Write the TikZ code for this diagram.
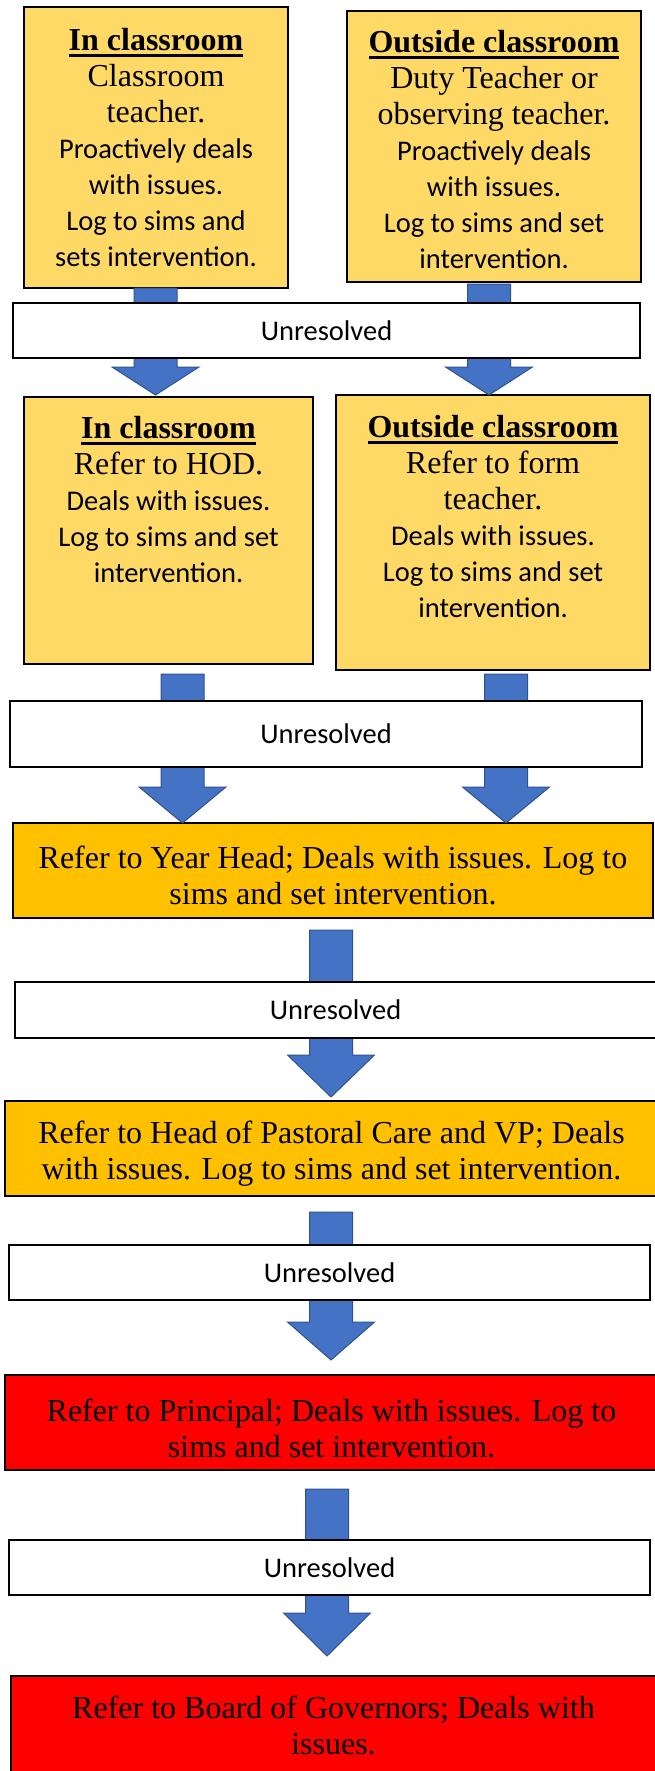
\documentclass[tikz,border=0pt]{standalone}
\usepackage{fontspec}
\setmainfont{Liberation Serif}
\newfontfamily\calib{Carlito}
\usetikzlibrary{calc}

\definecolor{lightgold}{HTML}{FFD966}
\definecolor{amber}{HTML}{FFC000}
\definecolor{alertred}{HTML}{FF0000}
\definecolor{arrowblue}{HTML}{4472C4}
\definecolor{arrowedge}{HTML}{2F528F}

% bold underlined heading
\newcommand{\headline}[1]{\setbox0\hbox{\bfseries #1}\leavevmode\rlap{\rule[-6pt]{\wd0}{3pt}}\box0}
% sans line inside a serif text block
\newcommand{\cl}[1]{{\calib\fontsize{28.5}{36}\selectfont #1}}
% block arrow: #1 start point (shaft centre), #2 tip point, #3 head length
\newcommand{\blockarrow}[3]{%
  \path[barrow] let \p1=(#1), \p2=(#2) in
    (\x1-21.5pt,\y1) -- (\x1+21.5pt,\y1) -- (\x1+21.5pt,\y2+#3pt) -- (\x1+43.5pt,\y2+#3pt)
    -- (\x1,\y2) -- (\x1-43.5pt,\y2+#3pt) -- (\x1-21.5pt,\y2+#3pt) -- cycle;}

\tikzset{
  box/.style={draw=black, line width=2.2pt, inner sep=0pt, outer sep=0pt},
  topbox/.style={box, fill=lightgold},
  amberbox/.style={box, fill=amber, line width=2.5pt},
  redbox/.style={box, fill=alertred, line width=2.5pt},
  unresolved/.style={box, fill=white, line width=2pt,
    font=\calib\fontsize{28.5}{34}\selectfont},
  label/.style={align=center, inner sep=0pt, font=\fontsize{32}{36}\selectfont},
  barrow/.style={fill=arrowblue, draw=arrowedge, line width=1pt},
}

\begin{document}
\begin{tikzpicture}[x=1pt, y=-1pt]
\useasboundingbox (0,0) rectangle (654,1771);

% first level
\node[topbox, minimum width=264pt, minimum height=281pt] (A) at (156,147.5) {};
\node[label, anchor=north] (tA) at (156,25.4) {\strut\headline{In classroom}\\
  Classroom\\ teacher.\\ \cl{Proactively deals}\\ \cl{with issues.}\\
  \cl{Log to sims and}\\ \cl{sets intervention.}};
\node[topbox, minimum width=294pt, minimum height=271pt] (B) at (494,146.5) {};
\node[label, anchor=north] (tB) at (494,27.4) {\strut\headline{Outside classroom}\\
  Duty Teacher or\\ observing teacher.\\ \cl{Proactively deals}\\ \cl{with issues.}\\
  \cl{Log to sims and set}\\ \cl{intervention.}};

% second level
\node[topbox, minimum width=289pt, minimum height=267pt] (C) at (168.5,530.5) {};
\node[label, anchor=north] (tC) at (168.5,413.4) {\strut\headline{In classroom}\\
  Refer to HOD.\\ \cl{Deals with issues.}\\ \cl{Log to sims and set}\\ \cl{intervention.}};
\node[topbox, minimum width=314pt, minimum height=275pt] (D) at (493,532.5) {};
\node[label, anchor=north] (tD) at (493,412.4) {\strut\headline{Outside classroom}\\
  Refer to form\\ teacher.\\ \cl{Deals with issues.}\\ \cl{Log to sims and set}\\ \cl{intervention.}};

% escalation chain
\node[amberbox, minimum width=640pt, minimum height=95pt] (Y) at (333,870.5) {};
\node[label] (tY) at (333,875) {Refer to Year Head; Deals with issues. Log to\\ sims and set intervention.};
\node[amberbox, minimum width=653pt, minimum height=95pt] (P) at (331.5,1148.5) {};
\node[label] (tP) at (331.5,1153.5) {Refer to Head of Pastoral Care and VP; Deals\\ with issues. Log to sims and set intervention.};
\node[redbox, minimum width=653pt, minimum height=95pt] (Pr) at (331.5,1422.5) {};
\node[label] (tPr) at (331.5,1428) {Refer to Principal; Deals with issues. Log to\\ sims and set intervention.};
\node[redbox, minimum width=647pt, minimum height=99pt] (Bd) at (334.5,1725.5) {};
\node[label] (tBd) at (333.5,1725) {Refer to Board of Governors; Deals with\\ issues.};

% arrows
\blockarrow{$(A.south)+(-0.5,0)$}{$(C.north)+(0,-2)$}{28}
\blockarrow{$(B.south)+(-5,2)$}{$(D.north)+(0,0)$}{28}
\blockarrow{$(C.south)+(14,10)$}{$(Y.north)+(0,0)$}{36}
\blockarrow{$(D.south)+(13,4)$}{$(Y.north)+(0,0)$}{36}
\blockarrow{$(Y.south)+(-2,12)$}{$(P.north)+(0,-4)$}{42}
\blockarrow{$(P.south)+(-0.5,16)$}{$(Pr.north)+(0,-15)$}{38}
\blockarrow{$(Pr.south)+(-4.5,19)$}{$(Bd.north)+(0,-20)$}{43}

% "Unresolved" bars lying across the arrows
\node[unresolved, minimum width=627pt, minimum height=55pt] (U1) at (326.5,330.5) {Unresolved};
\node[unresolved, minimum width=632pt, minimum height=66pt] (U2) at (326,734) {Unresolved};
\node[unresolved, minimum width=641pt, minimum height=56pt] (U3) at (335.5,1010) {Unresolved};
\node[unresolved, minimum width=641pt, minimum height=55pt] (U4) at (329.5,1272.5) {Unresolved};
\node[unresolved, minimum width=641pt, minimum height=55pt] (U5) at (329.5,1567.5) {Unresolved};
\end{tikzpicture}
\end{document}
